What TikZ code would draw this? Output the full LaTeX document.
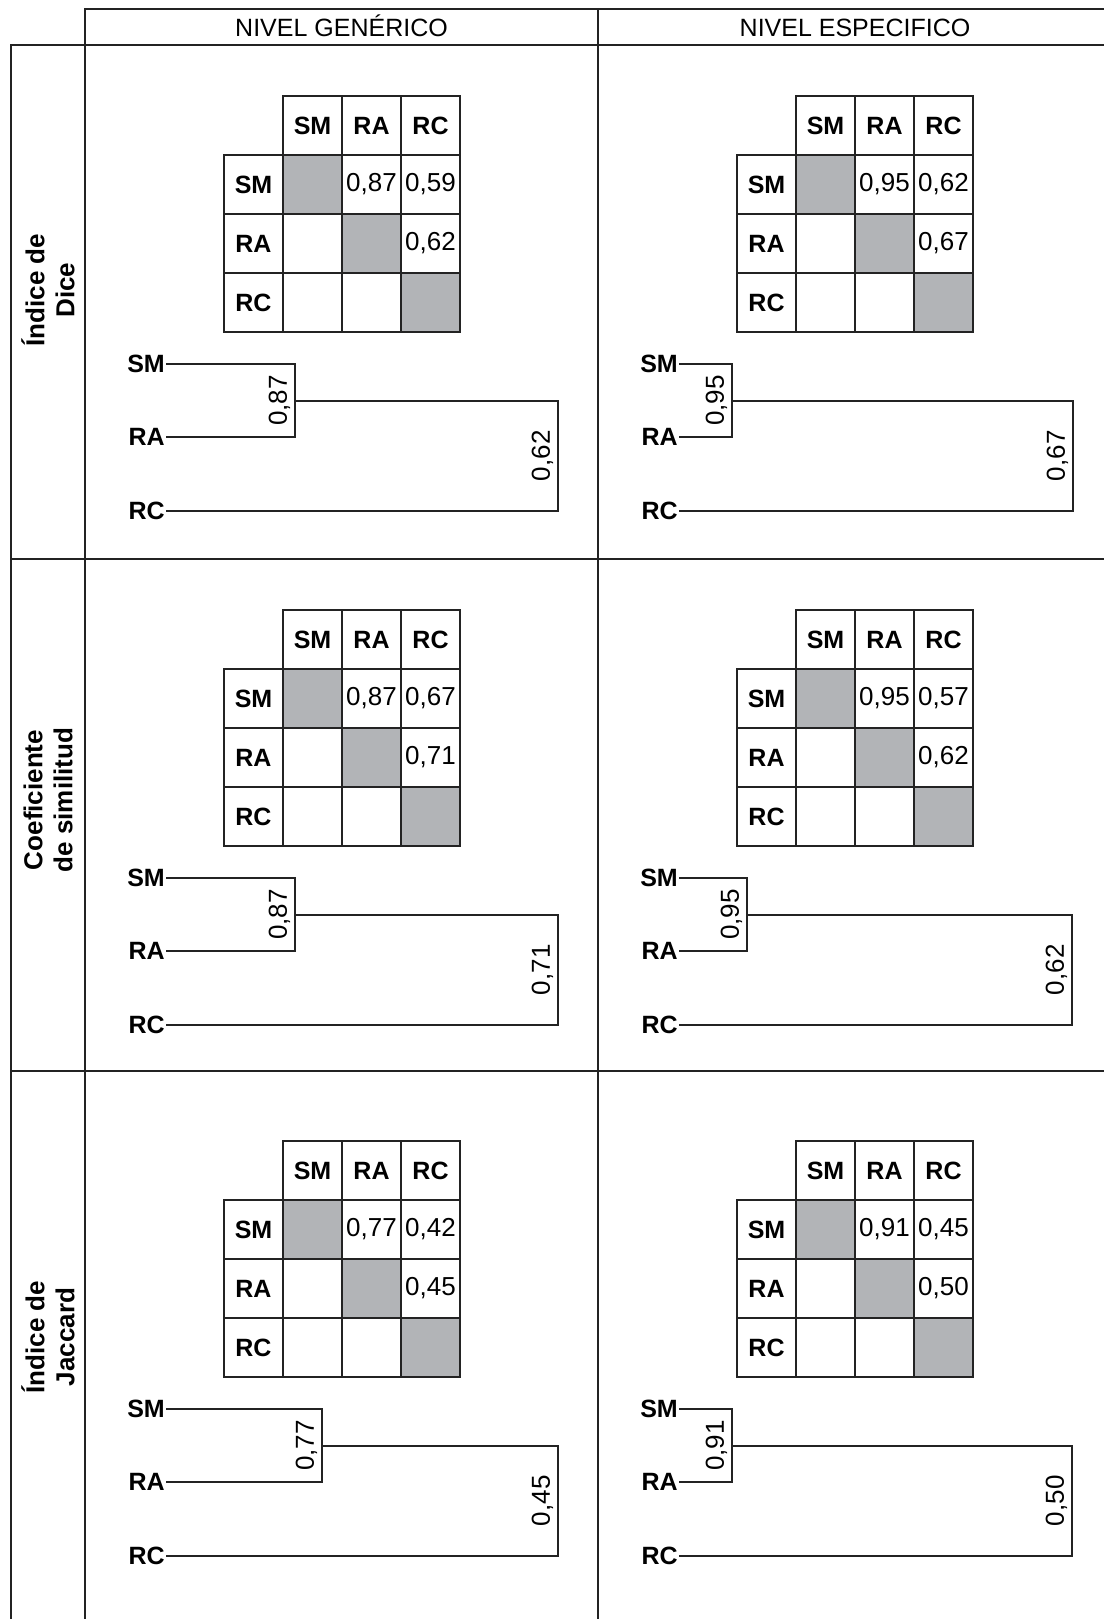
\documentclass[tikz,border=0pt]{standalone}
\usepackage{fontspec}
\setmainfont{Liberation Sans}
\usetikzlibrary{positioning}
\definecolor{cellgray}{RGB}{178,180,183}
\definecolor{inkline}{RGB}{35,35,35}

% one matrix + dendrogram: name, x, y, SM-RA, SM-RC, RA-RC, merge x 1, merge x 2
\newcommand{\simpanel}[8]{%
  \node[cell] (#1-hSM) at (#2+88.5,#3+29.5) {SM};
  \node[cell] (#1-hRA) at (#2+147.5,#3+29.5) {RA};
  \node[cell] (#1-hRC) at (#2+206.5,#3+29.5) {RC};
  \node[cell] (#1-rSM) at (#2+29.5,#3+88.5) {SM};
  \node[cell] (#1-rRA) at (#2+29.5,#3+147.5) {RA};
  \node[cell] (#1-rRC) at (#2+29.5,#3+206.5) {RC};
  \node[diagcell] (#1-c11) at (#2+88.5,#3+88.5) {};
  \node[valcell] (#1-c12) at (#2+147.5,#3+88.5) {#4};
  \node[valcell] (#1-c13) at (#2+206.5,#3+88.5) {#5};
  \node[valcell] (#1-c21) at (#2+88.5,#3+147.5) {};
  \node[diagcell] (#1-c22) at (#2+147.5,#3+147.5) {};
  \node[valcell] (#1-c23) at (#2+206.5,#3+147.5) {#6};
  \node[valcell] (#1-c31) at (#2+88.5,#3+206.5) {};
  \node[valcell] (#1-c32) at (#2+147.5,#3+206.5) {};
  \node[diagcell] (#1-c33) at (#2+206.5,#3+206.5) {};
  \node[leaf] (#1-lSM) at (#2-58,#3+268) {SM};
  \node[leaf] (#1-lRA) at (#2-58,#3+341) {RA};
  \node[leaf] (#1-lRC) at (#2-58,#3+415) {RC};
  \coordinate (#1-jA) at (#7,#3+304.5);
  \coordinate (#1-jB) at (#8,#3+359.75);
  \draw[dline] (#1-lSM.east) -| (#1-jA) |- (#1-lRA.east);
  \draw[dline] (#1-jA) -| (#1-jB) |- (#1-lRC.east);
  \node[dval] (#1-vA) at ([xshift=-3pt]#1-jA) {#4};
  \node[dval] (#1-vB) at ([xshift=-3pt]#1-jB) {#6};
}

\begin{document}
\begin{tikzpicture}[x=1pt, y=-1pt,
    cell/.style={draw=inkline, line width=1.1pt, minimum width=59pt, minimum height=59pt, inner sep=0pt, anchor=center, font=\fontsize{25}{29}\selectfont\bfseries},
    valcell/.style={cell, font=\fontsize{26}{30}\selectfont},
    diagcell/.style={cell, fill=cellgray},
    leaf/.style={anchor=east, inner sep=1pt, font=\fontsize{25}{29}\selectfont\bfseries},
    dval/.style={rotate=90, anchor=south, inner sep=1.5pt, font=\fontsize{26}{30}\selectfont},
    dline/.style={line width=2pt, draw=inkline},
    gridline/.style={line width=2pt, draw=inkline},
    colhead/.style={anchor=base, font=\fontsize{25}{30}\selectfont},
    rowhead/.style={rotate=90, align=center, font=\fontsize{26}{30}\selectfont\bfseries},
]
\useasboundingbox (0,0) rectangle (1104,1619);

% table frame
\draw[gridline] (85,1619) -- (85,9) -- (1104,9);
\draw[gridline] (11,1619) -- (11,45) -- (1104,45);
\draw[gridline] (598,9) -- (598,1619);
\draw[gridline] (11,559) -- (1104,559);
\draw[gridline] (11,1071) -- (1104,1071);

\node[colhead] (hgen) at (341.5,37) {NIVEL GENÉRICO};
\node[colhead] (hesp) at (855,37) {NIVEL ESPECIFICO};

\node[rowhead] (hdice) at (48,290) {Índice de\\Dice};
\node[rowhead] (hcoef) at (48,800) {Coeficiente\\de similitud};
\node[rowhead] (hjacc) at (48,1337) {Índice de\\Jaccard};

% Dice
\simpanel{dg}{224}{96}{0,87}{0,59}{0,62}{295}{558}
\simpanel{de}{737}{96}{0,95}{0,62}{0,67}{732}{1073}
% similitud
\simpanel{cg}{224}{610}{0,87}{0,67}{0,71}{295}{558}
\simpanel{ce}{737}{610}{0,95}{0,57}{0,62}{747}{1072}
% Jaccard
\simpanel{jg}{224}{1141}{0,77}{0,42}{0,45}{322}{558}
\simpanel{je}{737}{1141}{0,91}{0,45}{0,50}{732}{1072}
\end{tikzpicture}
\end{document}
